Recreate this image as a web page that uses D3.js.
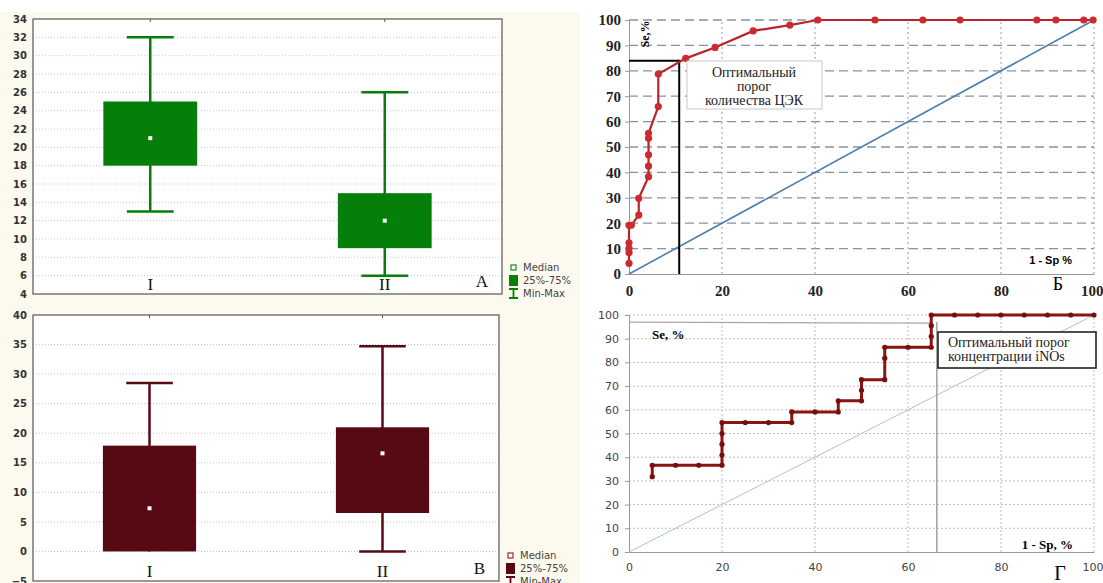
<!DOCTYPE html>
<html lang="ru">
<head>
<meta charset="utf-8">
<style>
  body { margin: 0; background: #fff; }
  svg { display: block; }
  .bx .tick text { font-family: "DejaVu Sans", Verdana, sans-serif; font-size: 10px; fill: #333; font-weight: bold; }
  .bx .domain, .bx .tick line { display: none; }
  .grid-dot { stroke: #c8c8c8; stroke-dasharray: 1, 2; }
  .cat-label { font-family: "Liberation Serif", "Times New Roman", serif; font-size: 17px; fill: #111; }
  .legend text { font-family: "DejaVu Sans", Verdana, sans-serif; font-size: 10px; fill: #444; }
  .roc1 .tick text { font-family: "Liberation Serif", serif; font-weight: bold; font-size: 15px; fill: #222; }
  .roc2 .tick text { font-family: "DejaVu Sans", Verdana, sans-serif; font-size: 11px; fill: #444; }
  .roc1 .domain, .roc2 .domain { stroke: #999; }
  .roc1 .tick line, .roc2 .tick line { stroke: #999; }
  .note { font-family: "Liberation Serif", "Times New Roman", serif; font-size: 14px; fill: #222; }
</style>
</head>
<body>
<svg width="1103" height="583"></svg>
<script src="https://d3js.org/d3.v7.min.js"></script>
<script>
// --- box plots: groups I and II
const groups = ["I", "II"]

// panel А (ЦЭК)
const cekMin = [13, 6]
const cekQ1 = [18, 9]
const cekMedian = [21, 12]
const cekQ3 = [25, 15]
const cekMax = [32, 26]
const cekTicks = [4, 6, 8, 10, 12, 14, 16, 18, 20, 22, 24, 26, 28, 30, 32, 34]

// panel В (iNOs)
const inosMin = [0, 0]
const inosQ1 = [0, 6.5]
const inosMedian = [7.3, 16.6]
const inosQ3 = [17.9, 21]
const inosMax = [28.5, 34.7]
const inosTicks = [-5, 0, 5, 10, 15, 20, 25, 30, 35, 40]

// --- ROC curves (1 - Sp, Se)
const cekFpr = [0, 0, 0, 0, 0, 0.5, 2.1, 2.1, 4.2, 4.2, 4.2, 4.2, 4.2, 6.3, 6.3, 12.2, 18.5, 26.7, 34.6, 40.6, 52.9, 63.2, 71.2, 87.7, 91.8, 97.8, 99.8]
const cekSe = [4.2, 8.4, 10.1, 12.3, 19.2, 19.2, 23.2, 29.8, 38.3, 42.5, 46.9, 53.4, 55.4, 65.9, 78.7, 84.9, 89.2, 95.7, 98, 100, 100, 100, 100, 100, 100, 100, 100]
const cekCut = { fpr: 10.8, se: 84 }

const inosFpr = [5, 5, 10, 15, 20, 20, 20, 20, 20, 25, 30, 35, 35, 40, 45, 45, 50, 50, 50, 55, 55, 55, 60, 65, 65, 65, 65, 70, 75, 80, 85, 90, 95, 100]
const inosSe = [31.8, 36.6, 36.6, 36.6, 36.6, 40.9, 45.5, 50, 54.6, 54.6, 54.6, 54.6, 59.1, 59.1, 59.1, 63.8, 63.8, 68.2, 72.7, 72.7, 81.8, 86.4, 86.4, 86.4, 91, 95.5, 100, 100, 100, 100, 100, 100, 100, 100]
const inosCutH = [[0, 97], [65, 96.6]]
const inosCutV = { fpr: 66.2, se: 97 }

const rocTicksY1 = [0, 10, 20, 30, 40, 50, 60, 70, 80, 90, 100]
const rocTicksX = [0, 20, 40, 60, 80, 100]

const svg = d3.select("svg")

// beige backdrop behind the box-plot panels
svg.append("rect").attr("x", 0).attr("y", 12).attr("width", 580).attr("height", 571).attr("fill", "#fcf9ee")

function drawBox(cfg) {
  const g = svg.append("g").attr("class", "bx")
  const x = d3.scalePoint().domain(groups).range([cfg.left, cfg.right]).padding(0.5)
  const y = d3.scaleLinear().domain(cfg.domain).range([cfg.bottom, cfg.top])
  const w = cfg.right - cfg.left
  const boxW = w * 0.2, capW = w * 0.1

  g.append("rect")
    .attr("x", cfg.left).attr("y", cfg.top)
    .attr("width", w).attr("height", cfg.bottom - cfg.top)
    .attr("fill", "#fff")

  g.selectAll("line.grid").data(cfg.ticks.slice(1, -1)).join("line")
    .attr("class", "grid-dot")
    .attr("x1", cfg.left).attr("x2", cfg.right)
    .attr("y1", d => y(d)).attr("y2", d => y(d))

  g.append("g")
    .attr("transform", "translate(" + (cfg.left - 4) + ",0)")
    .call(d3.axisLeft(y).tickValues(cfg.ticks).tickSize(0).tickPadding(2))

  const rows = groups.map((k, i) => ({
    k: k, min: cfg.min[i], q1: cfg.q1[i], med: cfg.med[i], q3: cfg.q3[i], max: cfg.max[i]
  }))

  const item = g.selectAll("g.item").data(rows).join("g").attr("class", "item")
  // whiskers
  item.append("line")
    .attr("x1", d => x(d.k)).attr("x2", d => x(d.k))
    .attr("y1", d => y(d.max)).attr("y2", d => y(d.min))
    .attr("stroke", cfg.color).attr("stroke-width", 2.5)
  item.append("line")
    .attr("x1", d => x(d.k) - capW / 2).attr("x2", d => x(d.k) + capW / 2)
    .attr("y1", d => y(d.max)).attr("y2", d => y(d.max))
    .attr("stroke", cfg.color).attr("stroke-width", 2.5)
  item.filter(d => d.min < d.q1).append("line")
    .attr("x1", d => x(d.k) - capW / 2).attr("x2", d => x(d.k) + capW / 2)
    .attr("y1", d => y(d.min)).attr("y2", d => y(d.min))
    .attr("stroke", cfg.color).attr("stroke-width", 2.5)
  // 25%-75% box
  item.append("rect")
    .attr("x", d => x(d.k) - boxW / 2).attr("width", boxW)
    .attr("y", d => y(d.q3)).attr("height", d => y(d.q1) - y(d.q3))
    .attr("fill", cfg.color)
  // median
  item.append("rect")
    .attr("x", d => x(d.k) - 2).attr("y", d => y(d.med) - 2)
    .attr("width", 4).attr("height", 4)
    .attr("fill", "#fff")

  // frame and small category ticks
  g.append("rect")
    .attr("x", cfg.left).attr("y", cfg.top)
    .attr("width", w).attr("height", cfg.bottom - cfg.top)
    .attr("fill", "none").attr("stroke", "#555").attr("stroke-width", 1.2)
  g.selectAll("line.ctick").data(groups).join("line")
    .attr("x1", d => x(d)).attr("x2", d => x(d))
    .attr("y1", cfg.top).attr("y2", cfg.top + 3)
    .attr("stroke", "#555")

  g.selectAll("text.cat").data(groups).join("text")
    .attr("class", "cat-label")
    .attr("x", d => x(d)).attr("y", cfg.bottom - 4)
    .attr("text-anchor", "middle")
    .text(d => d)
  g.append("text").attr("class", "cat-label")
    .attr("x", cfg.right - 14).attr("y", cfg.bottom - 7)
    .attr("text-anchor", "end").attr("font-size", "18px")
    .text(cfg.letter)

  // legend
  const lg = svg.append("g").attr("class", "legend")
    .attr("transform", "translate(" + (cfg.right + 7) + "," + cfg.legendY + ")")
  lg.append("rect").attr("x", 2).attr("y", -6).attr("width", 5).attr("height", 5)
    .attr("fill", "#fff").attr("stroke", cfg.legendEdge).attr("stroke-width", 1.2)
  lg.append("text").attr("x", 14).attr("y", 0).text("Median")
  lg.append("rect").attr("x", 0).attr("y", 4).attr("width", 9).attr("height", 11).attr("fill", cfg.color)
  lg.append("text").attr("x", 14).attr("y", 13).text("25%-75%")
  lg.append("path").attr("d", "M0,18H9M4.5,18V27M0,27H9")
    .attr("stroke", cfg.color).attr("stroke-width", 1.8).attr("fill", "none")
  lg.append("text").attr("x", 14).attr("y", 26).text("Min-Max")
}

drawBox({
  left: 33, right: 502, top: 19, bottom: 294, domain: [4, 34], ticks: cekTicks,
  min: cekMin, q1: cekQ1, med: cekMedian, q3: cekQ3, max: cekMax,
  color: "#067f0a", legendEdge: "#1a8a1a", letter: "А", legendY: 271
})
drawBox({
  left: 33, right: 499, top: 315, bottom: 581, domain: [-5, 40], ticks: inosTicks,
  min: inosMin, q1: inosQ1, med: inosMedian, q3: inosQ3, max: inosMax,
  color: "#580a14", legendEdge: "#9a2a3a", letter: "В", legendY: 559
})

// ---------- ROC panel Б
{
  const g = svg.append("g").attr("class", "roc1")
  const x = d3.scaleLinear().domain([0, 100]).range([629, 1094])
  const y = d3.scaleLinear().domain([0, 100]).range([274, 20])

  g.selectAll("line.hg").data(rocTicksY1.slice(1)).join("line")
    .attr("x1", x(0)).attr("x2", x(100))
    .attr("y1", d => y(d)).attr("y2", d => y(d))
    .attr("stroke", "#8494a4").attr("stroke-width", 1.3).attr("stroke-dasharray", "9,5")
  g.selectAll("line.vg").data(rocTicksX.slice(1)).join("line")
    .attr("x1", d => x(d)).attr("x2", d => x(d))
    .attr("y1", y(0)).attr("y2", y(100))
    .attr("stroke", "#9a9a9a").attr("stroke-dasharray", "2,3")

  g.append("g").attr("transform", "translate(" + x(0) + ",0)")
    .call(d3.axisLeft(y).tickValues(rocTicksY1).tickSize(4).tickPadding(4))
  const xa = g.append("g").attr("transform", "translate(0," + y(0) + ")")
    .call(d3.axisBottom(x).tickValues(rocTicksX).tickSize(0).tickPadding(11))
  xa.selectAll(".tick text").filter(d => d === 100)
    .attr("text-anchor", "end").attr("dx", "9")

  g.append("line")
    .attr("x1", x(0)).attr("y1", y(0)).attr("x2", x(100)).attr("y2", y(100))
    .attr("stroke", "#4d7dab").attr("stroke-width", 1.6)

  g.append("path")
    .attr("d", `M${x(0)},${y(cekCut.se)}H${x(cekCut.fpr)}V${y(0)}`)
    .attr("stroke", "#000").attr("stroke-width", 2).attr("fill", "none")

  const pts = cekFpr.map((v, i) => [v, cekSe[i]])
  g.append("path")
    .attr("d", d3.line().x(d => x(d[0])).y(d => y(d[1]))(pts))
    .attr("stroke", "#b8262b").attr("stroke-width", 2.2).attr("fill", "none")
  g.selectAll("circle").data(pts).join("circle")
    .attr("cx", d => x(d[0])).attr("cy", d => y(d[1])).attr("r", 3.6)
    .attr("fill", "#cc2a2f")

  g.append("rect").attr("x", 687).attr("y", 61).attr("width", 135).attr("height", 48)
    .attr("fill", "#fff").attr("stroke", "#c8c8c8")
  const t = g.append("text").attr("class", "note").attr("text-anchor", "middle")
  ;["Оптимальный", "порог", "количества ЦЭК"].forEach((s, i) =>
    t.append("tspan").attr("x", 754).attr("y", 77 + i * 14).text(s))

  g.append("text").attr("transform", "translate(649,34) rotate(-90)")
    .attr("text-anchor", "middle")
    .attr("font-family", "Liberation Serif, serif").attr("font-weight", "bold").attr("font-size", "12px")
    .text("Se,%")
  g.append("text").attr("x", 1072).attr("y", 264).attr("text-anchor", "end")
    .attr("font-family", "Liberation Sans, Arial, sans-serif").attr("font-weight", "bold").attr("font-size", "11px")
    .text("1 - Sp %")
  g.append("text").attr("x", 1058).attr("y", 290).attr("text-anchor", "middle")
    .attr("font-family", "Liberation Serif, serif").attr("font-size", "18px")
    .text("Б")
}

// ---------- ROC panel Г
{
  const g = svg.append("g").attr("class", "roc2")
  const x = d3.scaleLinear().domain([0, 100]).range([629, 1094])
  const y = d3.scaleLinear().domain([0, 100]).range([552, 315])

  g.selectAll("line.hg").data(rocTicksY1.slice(1)).join("line")
    .attr("x1", x(0)).attr("x2", x(100))
    .attr("y1", d => y(d)).attr("y2", d => y(d))
    .attr("stroke", "#bdbdbd").attr("stroke-dasharray", "2,2")
  g.selectAll("line.vg").data(rocTicksX.slice(1)).join("line")
    .attr("x1", d => x(d)).attr("x2", d => x(d))
    .attr("y1", y(0)).attr("y2", y(100))
    .attr("stroke", "#bdbdbd").attr("stroke-dasharray", "2,2")

  g.append("g").attr("transform", "translate(" + x(0) + ",0)")
    .call(d3.axisLeft(y).tickValues(rocTicksY1).tickSize(4).tickPadding(6))
  const xa = g.append("g").attr("transform", "translate(0," + y(0) + ")")
    .call(d3.axisBottom(x).tickValues(rocTicksX).tickSize(0).tickPadding(11))
  xa.selectAll(".tick text").filter(d => d === 100)
    .attr("text-anchor", "end").attr("dx", "9")

  g.append("line")
    .attr("x1", x(0)).attr("y1", y(0)).attr("x2", x(100)).attr("y2", y(100))
    .attr("stroke", "#a9c2de").attr("stroke-width", 1)

  g.append("path")
    .attr("d", d3.line().x(d => x(d[0])).y(d => y(d[1]))(inosCutH))
    .attr("stroke", "#a8a8a8").attr("stroke-width", 1.3).attr("fill", "none")
  g.append("line")
    .attr("x1", x(inosCutV.fpr)).attr("x2", x(inosCutV.fpr))
    .attr("y1", y(inosCutV.se)).attr("y2", y(0))
    .attr("stroke", "#a0a0a0").attr("stroke-width", 1.5)

  const pts = inosFpr.map((v, i) => [v, inosSe[i]])
  g.append("path")
    .attr("d", d3.line().x(d => x(d[0])).y(d => y(d[1]))(pts))
    .attr("stroke", "#8a1414").attr("stroke-width", 3).attr("fill", "none")
  g.selectAll("circle").data(pts).join("circle")
    .attr("cx", d => x(d[0])).attr("cy", d => y(d[1])).attr("r", 2.6)
    .attr("fill", "#7a0e0e")

  g.append("rect").attr("x", 938).attr("y", 332).attr("width", 158).attr("height", 36)
    .attr("fill", "#fff").attr("stroke", "#222").attr("stroke-width", 1.6)
  const t = g.append("text").attr("class", "note")
  ;["Оптимальный порог", "концентрации iNOs"].forEach((s, i) =>
    t.append("tspan").attr("x", 948).attr("y", 347 + i * 14).text(s))

  g.append("text").attr("x", 652).attr("y", 339)
    .attr("font-family", "Liberation Serif, serif").attr("font-weight", "bold").attr("font-size", "13px")
    .text("Se, %")
  g.append("text").attr("x", 1073).attr("y", 549).attr("text-anchor", "end")
    .attr("font-family", "Liberation Serif, serif").attr("font-weight", "bold").attr("font-size", "13px")
    .text("1 - Sp, %")
  g.append("text").attr("x", 1060).attr("y", 580).attr("text-anchor", "middle")
    .attr("font-family", "Liberation Serif, serif").attr("font-size", "20px")
    .text("Г")
}
</script>
</body>
</html>
